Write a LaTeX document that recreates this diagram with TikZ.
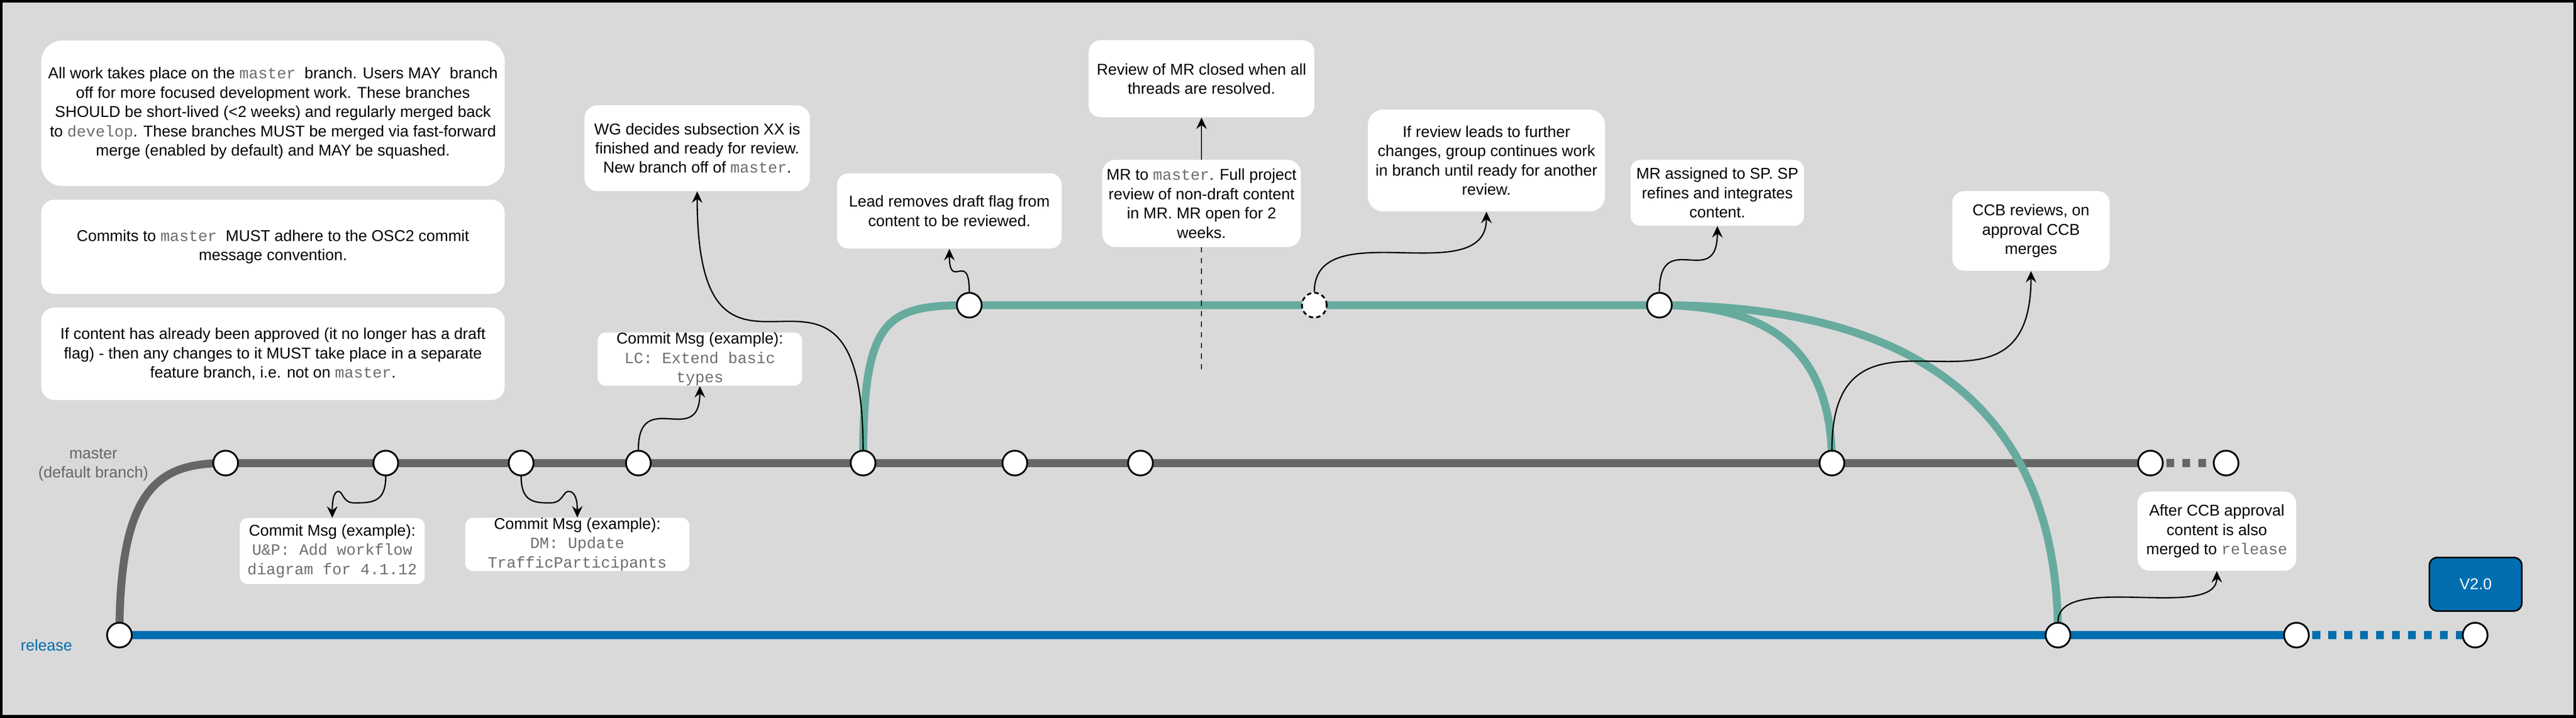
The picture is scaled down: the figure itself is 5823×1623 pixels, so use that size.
\documentclass[tikz,border=0pt]{standalone}
\usepackage{fontspec}
\setmainfont{Liberation Sans}
\setmonofont{Liberation Mono}
\usetikzlibrary{arrows.meta}
\pgfdeclarelayer{canvas}
\pgfdeclarelayer{lines}
\pgfsetlayers{canvas,lines,main}
\definecolor{bg}{HTML}{D9D9D9}
\definecolor{mastergray}{HTML}{666666}
\definecolor{featteal}{HTML}{67AB9F}
\definecolor{relblue}{HTML}{006EAF}
\definecolor{codegray}{HTML}{6E6E6E}
\newcommand{\mono}[1]{{\ttfamily\color{codegray}#1}}
\tikzset{
  note/.style={fill=white,rounded corners=3mm,align=center,inner sep=0pt},
  commit/.style={circle,draw=black,line width=0.4mm,fill=white,minimum size=5.6mm,inner sep=0pt},
  branch/.style={line width=1.8mm},
  link/.style={line width=0.3mm,-{Stealth[length=2.6mm,width=2.4mm,inset=0.9mm]}},
  scurve/.style={to path={.. controls (\tikztostart |- \tikztotarget) and (\tikztotarget |- \tikztostart) .. (\tikztotarget)}}
}
\begin{document}
\begin{tikzpicture}[x=0.1mm,y=-0.1mm,every node/.append style={font=\fontsize{10.1}{12.4}\selectfont}]
\useasboundingbox (0,0) rectangle (5823,1623);
\begin{pgfonlayer}{canvas}
\fill[bg] (0,0) rectangle (5823,1623);
\draw[line width=0.6mm] (3,3) rectangle (5820,1620);
\end{pgfonlayer}

\node[note,minimum width=104.8mm,minimum height=32.9mm,rounded corners=4.8mm] (rule1) at (617,256) {All work takes place on the \mono{master} \ branch. Users MAY \ branch\\off for more focused development work. These branches\\SHOULD be short-lived (<2 weeks) and regularly merged back\\to \mono{develop}. These branches MUST be merged via fast-forward\\merge (enabled by default) and MAY be squashed.};
\node[note,minimum width=104.8mm,minimum height=21.3mm] (rule2) at (617,558) {Commits to \mono{master} \ MUST adhere to the OSC2 commit\\message convention.};
\node[note,minimum width=104.8mm,minimum height=20.9mm] (rule3) at (617,800) {If content has already been approved (it no longer has a draft\\flag) - then any changes to it MUST take place in a separate\\feature branch, i.e. not on \mono{master}.};

\node[note,minimum width=51mm,minimum height=19.4mm] (wg) at (1576,335) {WG decides subsection XX is\\finished and ready for review.\\New branch off of \mono{master}.};
\node[note,minimum width=50.8mm,minimum height=17mm,rounded corners=2.6mm] (lead) at (2146,477) {Lead removes draft flag from\\content to be reviewed.};
\node[note,minimum width=46.2mm,minimum height=12mm,rounded corners=1.8mm] (lcmsg) at (1582,812) {Commit Msg (example):\\\mono{LC: Extend basic}\\\mono{types}};
\node[note,minimum width=44.9mm,minimum height=19.7mm] (mr) at (2716,460) {MR to \mono{master}. Full project\\review of non-draft content\\in MR. MR open for 2\\weeks.};
\node[note,minimum width=51mm,minimum height=17.4mm,rounded corners=2.6mm] (review) at (2716,178) {Review of MR closed when all\\threads are resolved.};
\node[note,minimum width=53.6mm,minimum height=23mm,rounded corners=3.4mm] (further) at (3360,363) {If review leads to further\\changes, group continues work\\in branch until ready for another\\review.};
\node[note,minimum width=39.2mm,minimum height=14.9mm,rounded corners=2.2mm] (assign) at (3882,436) {MR assigned to SP. SP\\refines and integrates\\content.};
\node[note,minimum width=35.6mm,minimum height=18mm,rounded corners=2.7mm] (ccb) at (4591,522) {CCB reviews, on\\approval CCB\\merges};
\node[note,minimum width=35.9mm,minimum height=17.9mm,rounded corners=2.7mm] (aftccb) at (5011,1201) {After CCB approval\\content is also\\merged to \mono{release}};
\node[note,minimum width=41.8mm,minimum height=14.9mm,rounded corners=1.8mm] (upmsg) at (751,1246) {Commit Msg (example):\\\mono{U\&P: Add workflow}\\\mono{diagram for 4.1.12}};
\node[note,minimum width=50.7mm,minimum height=11.9mm,rounded corners=1.8mm] (dmmsg) at (1305,1231) {Commit Msg (example):\\\mono{DM: Update}\\\mono{TrafficParticipants}};
\node[note,fill=relblue,draw=black,line width=0.35mm,text=white,minimum width=20.9mm,minimum height=12.1mm,rounded corners=1.8mm] (v20) at (5596,1321) {V2.0};

\node[text=mastergray,align=center] (mlabel) at (211,1051) {master\\(default branch)};
\node[text=relblue] (rlabel) at (105,1459) {release};

\foreach \n/\x in {1/510,2/872,3/1178,4/1443,5/1951,6/2294,7/2578,8/4141,9/4861,10/5032}
  \node[commit] (m\n) at (\x,1047) {};
\foreach \n/\x in {0/270,1/4652,2/5191,3/5595}
  \node[commit] (r\n) at (\x,1436) {};
\node[commit] (t1) at (2191,690) {};
\node[commit,dash pattern=on 1mm off 0.7mm] (t2) at (2971,690) {};
\node[commit] (t3) at (3751,690) {};
\coordinate (mrend) at (2716,839);

\begin{pgfonlayer}{lines}
\draw[branch,mastergray] (r0.center) .. controls (270,1100) and (360,1047) .. (m1.center) -- (m9.center);
\draw[branch,mastergray,dash pattern=on 1.8mm off 1.8mm] (m9.center) -- (m10.center);
\draw[branch,relblue] (r0.center) -- (r2.center);
\draw[branch,relblue,dash pattern=on 1.8mm off 1.8mm] (r2.center) -- (r3.center);
\draw[branch,featteal] (m5.center) .. controls (1951,720) and (2000,690) .. (t1.center) -- (t3.center);
\draw[branch,featteal] (t3.center) .. controls (4010,690) and (4141,800) .. (m8.center);
\draw[branch,featteal] (t3.center) .. controls (4300,690) and (4652,900) .. (r1.center);
\end{pgfonlayer}

\draw[link] (m2.south) .. controls (872,1137) and (840,1137) .. (800,1137) .. controls (775,1137) and (775,1111) .. (765,1111) .. controls (755,1111) and (751,1130) .. (upmsg.north);
\draw[link] (m3.south) .. controls (1178,1137) and (1210,1137) .. (1245,1137) .. controls (1272,1137) and (1273,1111) .. (1285,1111) .. controls (1300,1111) and (1305,1130) .. (dmmsg.north);
\draw[link] (m4.north) to[scurve] (lcmsg.south);
\draw[link] (m5.north) to[scurve] (wg.south);
\draw[link] (t1.north) to[scurve] (lead.south);
\draw[link] (mr.north) -- (review.south);
\draw[line width=0.3mm,dash pattern=on 1.2mm off 1.2mm] (mr.south) -- (mrend);
\draw[link] (t2.north) to[scurve] (further.south);
\draw[link] (t3.north) to[scurve] (assign.south);
\draw[link] (m8.north) to[scurve] (ccb.south);
\draw[link] (r1.north) to[scurve] (aftccb.south);
\end{tikzpicture}
\end{document}
